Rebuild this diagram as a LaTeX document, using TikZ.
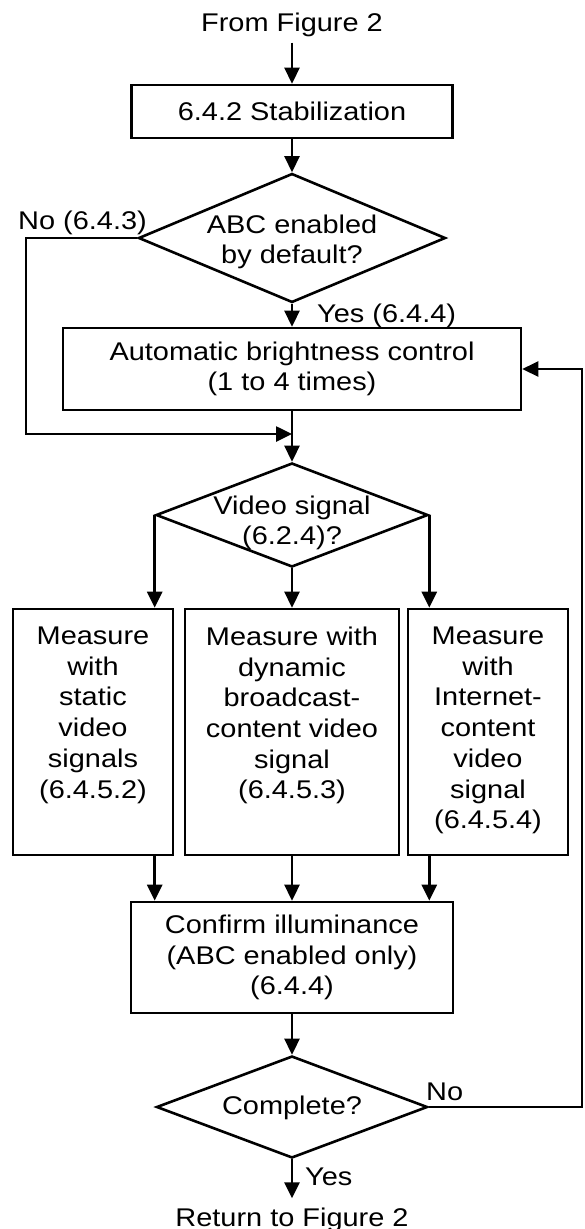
\documentclass[tikz,border=0pt]{standalone}
\usepackage{fontspec}
\setmainfont{Liberation Sans}[FakeStretch=1.13]
\usetikzlibrary{arrows.meta, shapes.geometric, positioning}

\begin{document}
\begin{tikzpicture}[x=1pt, y=-1pt,
    font=\fontsize{25.6}{30.7}\selectfont,
    box/.style={draw, line width=2.6pt, inner sep=0pt, align=center},
    dec/.style={draw, diamond, line width=2.6pt, inner sep=0pt},
    txt/.style={align=center, inner sep=0pt},
    arr/.style={line width=2.6pt, -{Triangle[length=16pt, width=15pt]}}]
    \useasboundingbox (0, 0) rectangle (584, 1229);

    \node [txt, anchor=base] (from) at (292, 31) {From Figure 2};
    \node [box, minimum width=321pt, minimum height=53pt] (stab) at (292, 111.5) {6.4.2 Stabilization};

    \node [dec, minimum width=307pt, minimum height=129pt] (d1) at (292, 238) {};
    \node [txt] (d1txt) at (292, 242) {ABC enabled\\by default?};
    \node [txt, anchor=base east] (nolbl) at (147, 229) {No (6.4.3)};
    \node [txt, anchor=base west] (yeslbl) at (317, 322) {Yes (6.4.4)};

    \node [box, minimum width=458pt, minimum height=82pt] (abc) at (292, 369) {Automatic brightness control\\(1 to 4 times)};
    \coordinate (nocorner) at (26, 238);
    \coordinate (nojoin) at (292, 434);

    \node [dec, minimum width=272pt, minimum height=104pt] (d2) at (292, 515) {};
    \node [txt] (d2txt) at (292, 523) {Video signal\\(6.2.4)?};

    \node [box, minimum width=160pt, minimum height=246pt] (vstat) at (93, 732) {};
    \node [txt, below=19pt of vstat.north] (vstattxt) {Measure\\with\\static\\video\\signals\\(6.4.5.2)};
    \node [box, minimum width=214pt, minimum height=246pt] (vdyn) at (292, 732) {};
    \node [txt, below=19pt of vdyn.north] (vdyntxt) {Measure with\\dynamic\\broadcast-\\content video\\signal\\(6.4.5.3)};
    \node [box, minimum width=160pt, minimum height=246pt] (vint) at (488, 732) {};
    \node [txt, below=19pt of vint.north] (vinttxt) {Measure\\with\\Internet-\\content\\video\\signal\\(6.4.5.4)};

    \node [box, minimum width=322pt, minimum height=111pt] (conf) at (292, 957.5) {Confirm illuminance\\(ABC enabled only)\\(6.4.4)};

    \node [dec, minimum width=271pt, minimum height=102pt] (d3) at (292, 1107) {};
    \node [txt, anchor=base] (d3txt) at (292, 1114) {Complete?};
    \node [txt, anchor=base west] (nolbl2) at (426, 1100) {No};
    \node [txt, anchor=base west] (yeslbl2) at (305, 1185) {Yes};
    \coordinate (fbcorner) at (582, 1107);

    \node [txt, anchor=base] (ret) at (292, 1226) {Return to Figure 2};

    \draw [arr, shorten <=6pt] (from) -- (stab);
    \draw [arr] (stab) -- (d1);
    \draw [arr] (d1) -- (abc);
    \draw [arr] (d1.west) -- (nocorner) |- (nojoin);
    \draw [arr] (abc) -- (d2);
    \draw [arr] (d2.west) -- (d2.west |- vstat.north);
    \draw [arr] (d2) -- (vdyn);
    \draw [arr] (d2.east) -- (d2.east |- vint.north);
    \draw [arr] (d2.west |- vstat.south) -- (d2.west |- conf.north);
    \draw [arr] (vdyn) -- (conf);
    \draw [arr] (d2.east |- vint.south) -- (d2.east |- conf.north);
    \draw [arr] (conf) -- (d3);
    \draw [arr, shorten >=9pt] (d3) -- (ret);
    \draw [arr] (d3.east) -- (fbcorner) |- (abc.east);
\end{tikzpicture}
\end{document}
